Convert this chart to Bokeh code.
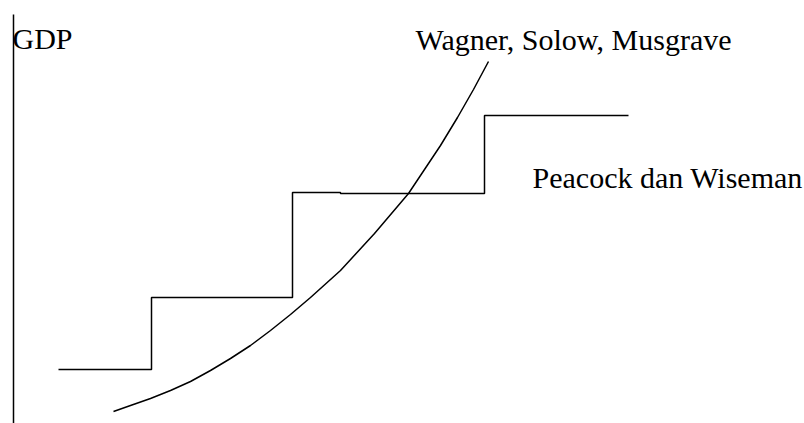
from bokeh.plotting import figure
from bokeh.models import Range1d
from bokeh.core.properties import value
from bokeh.embed import file_html
from bokeh.resources import INLINE

# Step path (Peacock dan Wiseman)
step_x = [58, 151, 151, 292, 292, 340, 340, 484, 484, 628]
step_y = [54, 54, 126, 126, 231, 231, 230, 230, 308, 308]

# Smooth rising curve (Wagner, Solow, Musgrave)
curve_x = [113, 130, 150, 170, 190, 210, 230, 250, 270, 290, 310, 340, 374, 408, 440, 457, 473, 488]
curve_y = [12, 18, 25, 33, 42, 53, 65, 78, 93, 109, 126, 153, 190, 230, 278, 306, 334, 362]

# Vertical axis line
axis_x = [13, 13]
axis_y = [-10, 409]

labels = ["GDP", "Wagner, Solow, Musgrave", "Peacock dan Wiseman"]
label_x = [12, 415, 532]
label_y = [385, 384, 246]

W, H = 804, 423
p = figure(width=W, height=H, output_backend="svg", toolbar_location=None,
           x_range=Range1d(0, W), y_range=Range1d(0, H), min_border=0)
p.xaxis.visible = False
p.yaxis.visible = False
p.grid.visible = False
p.outline_line_color = None
p.background_fill_color = "white"
p.border_fill_color = "white"

p.line(axis_x, axis_y, line_color="black", line_width=1.5)
p.line(step_x, step_y, line_color="black", line_width=1.5)
p.line(curve_x, curve_y, line_color="black", line_width=1.5, line_join="round")

p.text(x=label_x, y=label_y, text=labels, text_font=value("Liberation Serif"),
       text_font_size="30px", text_color="black", text_baseline="alphabetic",
       text_align="left")

open("out.html", "w").write(file_html(p, INLINE))
